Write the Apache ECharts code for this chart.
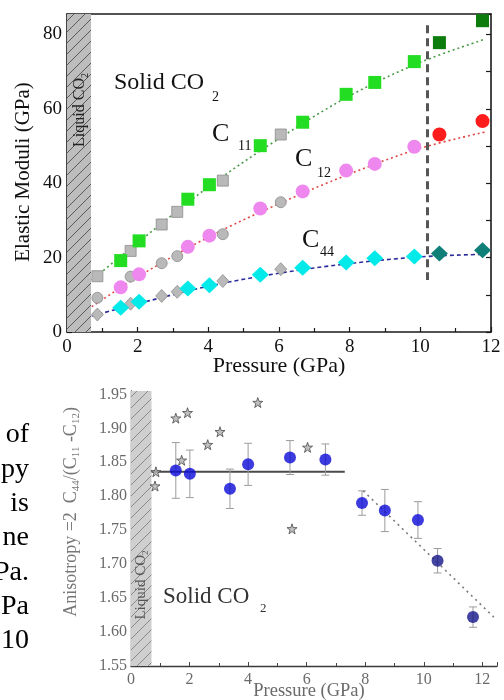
<!DOCTYPE html>
<html>
<head>
<meta charset="utf-8">
<script src="https://cdn.jsdelivr.net/npm/echarts@6/dist/echarts.min.js"></script>
<style>
  html, body { margin: 0; padding: 0; background: #fff; }
  #chart { width: 504px; height: 700px; }
</style>
</head>
<body>
<div id="chart"></div>
<script>
// ---------- Elastic moduli of solid CO2 (GPa) versus pressure (GPa) ----------
const pressure = [1.52, 2.04, 3.42, 4.03, 5.47, 6.67, 7.90, 8.71, 9.83];
const c11 = [19.2, 24.5, 35.7, 39.6, 50.1, 56.4, 63.9, 67.1, 72.7];
const c12 = [12.0, 15.5, 22.9, 25.9, 33.2, 37.8, 43.4, 45.2, 49.8];
const c44 = [6.5, 8.1, 11.7, 12.6, 15.4, 17.3, 18.7, 19.8, 20.3];

// high-pressure phase
const pressureHigh = [10.54, 11.76];
const c11High = [77.8, 83.7];
const c12High = [53.1, 56.7];
const c44High = [21.1, 22.0];

// earlier measurements (gray symbols)
const pressureRef = [0.86, 1.80, 2.68, 3.12, 4.41, 6.05];
const c11Ref = [15.0, 21.8, 28.9, 32.3, 40.7, 53.1];
const c12Ref = [9.2, 14.9, 18.5, 20.4, 26.3, 34.9];
const c44Ref = [4.7, 7.6, 9.7, 10.8, 13.7, 16.9];

// fitted curves
const fitPressure = [0.7, 2, 4, 6, 8, 10, 11.85];
const c11Fit = [14.0, 24.0, 39.0, 52.0, 63.5, 72.5, 78.8];
const c12Fit = [6.8, 14.8, 25.5, 34.5, 42.5, 49.4, 53.8];
const c44Fit = [4.3, 7.6, 12.3, 15.8, 18.4, 20.2, 20.9];

const moduliTicks = [0, 20, 40, 60, 80];
const pressureTicks = [0, 2, 4, 6, 8, 10, 12];
const liquidEdge = 0.68;
const transitionP = 10.2;

// ---------- Anisotropy 2 C44 / (C11 - C12) ----------
const anisoPressure = [1.53, 2.01, 3.38, 4.00, 5.43, 6.64, 7.89, 8.67, 9.80, 10.47, 11.68];
const anisoValue = [1.838, 1.833, 1.811, 1.847, 1.857, 1.854, 1.790, 1.779, 1.765, 1.705, 1.622];
const anisoError = [0.041, 0.035, 0.029, 0.031, 0.025, 0.023, 0.018, 0.031, 0.027, 0.018, 0.015];
const anisoHighFrom = 9; // index where the high-pressure phase starts

const starPressure = [0.82, 0.85, 1.53, 1.73, 1.93, 2.62, 3.04, 4.33, 5.50, 6.03];
const starValue = [1.815, 1.836, 1.915, 1.853, 1.923, 1.876, 1.895, 1.938, 1.752, 1.872];

const meanPressure = [0.7, 7.3];
const meanValue = [1.836, 1.836];
const trendPressure = [7.93, 12.39];
const trendValue = [1.808, 1.622];

const anisoTicks = ['1.55', '1.60', '1.65', '1.70', '1.75', '1.80', '1.85', '1.90', '1.95'];
const anisoPressureTicks = [0, 2, 4, 6, 8, 10, 12];

const sideText = ['of', 'py', 'is', 'ne', 'Pa.', 'Pa', '10'];

// ---------------------------------------------------------------
const serif = '"Liberation Serif", "Times New Roman", serif';
const pairs = (xs, ys) => xs.map((x, i) => [x, ys[i]]);

function hatch(bg, fg, n) {
  const c = document.createElement('canvas');
  c.width = n; c.height = n;
  const g = c.getContext('2d');
  g.fillStyle = bg; g.fillRect(0, 0, n, n);
  g.strokeStyle = fg; g.lineWidth = 1;
  g.beginPath();
  g.moveTo(0, n); g.lineTo(n, 0);
  g.moveTo(-1, 1); g.lineTo(1, -1);
  g.moveTo(n - 1, n + 1); g.lineTo(n + 1, n - 1);
  g.stroke();
  return { image: c, repeat: 'repeat' };
}

// text with subscripts, built from measured pieces: [text, fontSize, downShift]
const measureCtx = document.createElement('canvas').getContext('2d');
function textWidth(str, size) {
  measureCtx.font = size + 'px ' + serif;
  return measureCtx.measureText(str).width;
}
function composedLabel(cx, cy, pieces, color, rotation) {
  const total = pieces.reduce((s, p) => s + textWidth(p[0], p[1]), 0);
  let x = -total / 2;
  const children = pieces.map(p => {
    const el = {
      type: 'text', x, y: p[2] || 0, z: 100,
      style: { text: p[0], font: p[1] + 'px ' + serif, fill: color, verticalAlign: 'middle' }
    };
    x += textWidth(p[0], p[1]);
    return el;
  });
  return { type: 'group', x: cx, y: cy, rotation: rotation || 0, z: 100, children };
}

const STAR = 'path://M12,0 L14.9,8.6 L24,8.8 L16.7,14.3 L19.4,23 L12,17.8 L4.6,23 L7.3,14.3 L0,8.8 L9.1,8.6 Z';

function pts(name, xs, ys, symbol, size, color, border, z) {
  return {
    type: 'scatter', name, xAxisIndex: 0, yAxisIndex: 0, silent: true, z: z || 3,
    symbol, symbolSize: size,
    itemStyle: { color, borderColor: border || color, borderWidth: border ? 0.8 : 0, opacity: 1 },
    data: pairs(xs, ys)
  };
}

function fit(xs, ys, color, dash) {
  return {
    type: 'line', xAxisIndex: 0, yAxisIndex: 0, silent: true, z: 2,
    data: pairs(xs, ys), smooth: 0.35, symbol: 'none', showSymbol: false,
    lineStyle: { color, type: dash, width: 1.6 }
  };
}

const axisDark = { color: '#1a1a1a', width: 1.6 };
const axisGray = { color: '#3a3a3a', width: 1.4 };

const option = {
  animation: false,
  backgroundColor: '#ffffff',
  grid: [
    { left: 67, top: 14, width: 424, height: 318, show: false, outerBoundsMode: 'none' },
    { left: 131, top: 391, width: 366, height: 275, show: false, outerBoundsMode: 'none' }
  ],
  xAxis: [
    {
      gridIndex: 0, type: 'value', position: 'bottom',
      min: pressureTicks[0], max: pressureTicks[pressureTicks.length - 1],
      interval: pressureTicks[1] - pressureTicks[0],
      axisLine: { show: true, onZero: false, lineStyle: axisDark },
      axisTick: { show: true, inside: true, length: 5, lineStyle: { color: '#1a1a1a', width: 1.2 } },
      minorTick: { show: true, splitNumber: 2, length: 4, lineStyle: { color: '#1a1a1a', width: 1.2 } },
      axisLabel: { margin: 6, fontFamily: serif, fontSize: 19, color: '#111' },
      splitLine: { show: false }, minorSplitLine: { show: false }
    },
    {
      gridIndex: 0, type: 'value', position: 'top',
      min: pressureTicks[0], max: pressureTicks[pressureTicks.length - 1],
      axisLine: { show: true, onZero: false, lineStyle: axisDark },
      axisTick: { show: false }, axisLabel: { show: false }, splitLine: { show: false }
    },
    {
      gridIndex: 1, type: 'value', position: 'bottom',
      min: anisoPressureTicks[0], max: 12.5,
      interval: anisoPressureTicks[1] - anisoPressureTicks[0],
      axisLine: { show: true, onZero: false, lineStyle: axisGray },
      axisTick: { show: true, inside: true, length: 4, lineStyle: { color: '#444', width: 1 } },
      minorTick: { show: true, splitNumber: 2, length: 3, lineStyle: { color: '#444', width: 1 } },
      axisLabel: { margin: 6, fontFamily: serif, fontSize: 16, color: '#6a6a6a', showMaxLabel: false },
      splitLine: { show: false }, minorSplitLine: { show: false }
    }
  ],
  yAxis: [
    {
      gridIndex: 0, type: 'value', position: 'left',
      min: moduliTicks[0], max: 85.5, interval: moduliTicks[1] - moduliTicks[0],
      axisLine: { show: true, onZero: false, lineStyle: axisDark },
      axisTick: { show: true, inside: true, length: 5, lineStyle: { color: '#1a1a1a', width: 1.2 } },
      minorTick: { show: true, splitNumber: 2, length: 4, lineStyle: { color: '#1a1a1a', width: 1.2 } },
      axisLabel: { margin: 5, fontFamily: serif, fontSize: 19, color: '#111', showMaxLabel: false },
      splitLine: { show: false }, minorSplitLine: { show: false }
    },
    {
      gridIndex: 0, type: 'value', position: 'right',
      min: moduliTicks[0], max: 85.5, interval: 10,
      axisLine: { show: true, onZero: false, lineStyle: axisDark },
      axisTick: { show: true, inside: true, length: 5, lineStyle: { color: '#1a1a1a', width: 1.2 } },
      axisLabel: { show: false }, splitLine: { show: false }
    },
    {
      gridIndex: 1, type: 'value', position: 'left',
      min: Number(anisoTicks[0]), max: 1.955,
      interval: Number(anisoTicks[1]) - Number(anisoTicks[0]),
      axisLine: { show: true, onZero: false, lineStyle: axisGray },
      axisTick: { show: true, inside: true, length: 4, lineStyle: { color: '#444', width: 1 } },
      axisLabel: {
        margin: 4, fontFamily: serif, fontSize: 16, color: '#6a6a6a', showMaxLabel: false,
        formatter: v => v.toFixed(2)
      },
      splitLine: { show: false }
    }
  ],
  series: [
    // fitted curves, liquid region and phase boundary
    Object.assign(fit(fitPressure, c44Fit, '#2c2c9c', [4, 3]), {
      markArea: {
        silent: true,
        itemStyle: { color: hatch('#bdbdbd', '#5a5a5a', 11), borderWidth: 0 },
        data: [[{ xAxis: 0, yAxis: 0 }, { xAxis: liquidEdge, yAxis: 85.5 }]]
      },
      markLine: {
        silent: true, symbol: ['none', 'none'], label: { show: false },
        lineStyle: { type: [8, 5], color: '#555', width: 3 },
        data: [[{ coord: [transitionP, 82.5] }, { coord: [transitionP, 14] }]]
      }
    }),
    fit(fitPressure, c11Fit, '#4a9a4a', [2, 3]),
    fit(fitPressure, c12Fit, '#e04545', [2, 3]),

    pts('C11 ref', pressureRef, c11Ref, 'rect', 11, '#b9b9b9', '#8c8c8c', 3),
    pts('C12 ref', pressureRef, c12Ref, 'circle', 11, '#b9b9b9', '#8c8c8c', 3),
    pts('C44 ref', pressureRef, c44Ref, 'diamond', [12, 13], '#b9b9b9', '#8c8c8c', 3),

    pts('C11', pressure, c11, 'rect', 13, '#22dd22', null, 4),
    pts('C12', pressure, c12, 'circle', 14, '#ee88ee', null, 4),
    pts('C44', pressure, c44, 'diamond', [17, 16], '#00eaea', null, 4),

    pts('C11 high', pressureHigh, c11High, 'rect', 13, '#0c7d0c', null, 4),
    pts('C12 high', pressureHigh, c12High, 'circle', 14, '#ff1c1c', null, 4),
    pts('C44 high', pressureHigh, c44High, 'diamond', [17, 16], '#0f7f78', null, 4),

    // anisotropy: mean line + liquid region
    {
      type: 'line', xAxisIndex: 2, yAxisIndex: 2, silent: true, z: 2,
      data: pairs(meanPressure, meanValue), symbol: 'none',
      lineStyle: { color: '#4a4a4a', width: 2 },
      markArea: {
        silent: true,
        itemStyle: { color: hatch('#cfcfcf', '#8a8a8a', 11), borderWidth: 0 },
        data: [[{ xAxis: 0, yAxis: 1.55 }, { xAxis: 0.7, yAxis: 1.955 }]]
      }
    },
    {
      type: 'line', xAxisIndex: 2, yAxisIndex: 2, silent: true, z: 2,
      data: pairs(trendPressure, trendValue), symbol: 'none',
      lineStyle: { color: '#7a7a7a', width: 1.6, type: [2, 4] }
    },
    // error bars
    {
      type: 'custom', xAxisIndex: 2, yAxisIndex: 2, silent: true, z: 3,
      data: anisoPressure.map((p, i) => [p, anisoValue[i], anisoError[i]]),
      encode: { x: 0, y: 1 },
      renderItem(params, api) {
        const x = api.value(0), v = api.value(1), e = api.value(2);
        const top = api.coord([x, v + e]);
        const bot = api.coord([x, v - e]);
        const hw = 4;
        const st = { stroke: '#9c9c9c', lineWidth: 1 };
        return {
          type: 'group',
          children: [
            { type: 'line', shape: { x1: top[0], y1: top[1], x2: bot[0], y2: bot[1] }, style: st },
            { type: 'line', shape: { x1: top[0] - hw, y1: top[1], x2: top[0] + hw, y2: top[1] }, style: st },
            { type: 'line', shape: { x1: bot[0] - hw, y1: bot[1], x2: bot[0] + hw, y2: bot[1] }, style: st }
          ]
        };
      }
    },
    {
      type: 'scatter', xAxisIndex: 2, yAxisIndex: 2, silent: true, z: 4,
      symbol: 'circle', symbolSize: 12,
      itemStyle: { color: '#0a0ad8' },
      data: pairs(anisoPressure.slice(0, anisoHighFrom), anisoValue.slice(0, anisoHighFrom))
    },
    {
      type: 'scatter', xAxisIndex: 2, yAxisIndex: 2, silent: true, z: 4,
      symbol: 'circle', symbolSize: 12,
      itemStyle: { color: '#14148a' },
      data: pairs(anisoPressure.slice(anisoHighFrom), anisoValue.slice(anisoHighFrom))
    },
    {
      type: 'scatter', xAxisIndex: 2, yAxisIndex: 2, silent: true, z: 4,
      symbol: STAR, symbolSize: 10,
      itemStyle: { color: '#b0b0b0', borderColor: '#4a4a4a', borderWidth: 1 },
      data: pairs(starPressure, starValue)
    }
  ],
  graphic: {
    elements: [
      // axis titles
      { type: 'text', x: 23, y: 172, rotation: Math.PI / 2, z: 100,
        style: { text: 'Elastic Moduli (GPa)', font: `21px ${serif}`, fill: '#111', align: 'center', verticalAlign: 'middle' } },
      { type: 'text', x: 279, y: 366, z: 100,
        style: { text: 'Pressure (GPa)', font: `22px ${serif}`, fill: '#111', align: 'center', verticalAlign: 'middle' } },
      { type: 'text', x: 309, y: 691, z: 100,
        style: { text: 'Pressure (GPa)', font: `18.5px ${serif}`, fill: '#6a6a6a', align: 'center', verticalAlign: 'middle' } },
      composedLabel(71, 512, [
        ['Anisotropy =2  C', 18], ['44', 11, 5], ['/(C', 18], ['11', 11, 5],
        [' -C', 18], ['12', 11, 5], [')', 18]
      ], '#777', Math.PI / 2),

      // liquid region labels
      composedLabel(80, 110, [['Liquid CO', 16], ['2', 10, 5]], '#222', Math.PI / 2),
      composedLabel(141, 585, [['Liquid CO', 15], ['2', 9, 5]], '#555', Math.PI / 2),

      // phase and modulus labels
      { type: 'text', x: 114, y: 83, z: 100, style: { text: 'Solid CO', font: `24px ${serif}`, fill: '#111', verticalAlign: 'middle' } },
      { type: 'text', x: 212, y: 97, z: 100, style: { text: '2', font: `14px ${serif}`, fill: '#111', verticalAlign: 'middle' } },
      { type: 'text', x: 212, y: 134, z: 100, style: { text: 'C', font: `26px ${serif}`, fill: '#111', verticalAlign: 'middle' } },
      { type: 'text', x: 238, y: 146, z: 100, style: { text: '11', font: `14px ${serif}`, fill: '#111', verticalAlign: 'middle' } },
      { type: 'text', x: 295, y: 159, z: 100, style: { text: 'C', font: `26px ${serif}`, fill: '#111', verticalAlign: 'middle' } },
      { type: 'text', x: 317, y: 173, z: 100, style: { text: '12', font: `14px ${serif}`, fill: '#111', verticalAlign: 'middle' } },
      { type: 'text', x: 302, y: 240, z: 100, style: { text: 'C', font: `26px ${serif}`, fill: '#111', verticalAlign: 'middle' } },
      { type: 'text', x: 320, y: 252, z: 100, style: { text: '44', font: `14px ${serif}`, fill: '#111', verticalAlign: 'middle' } },

      { type: 'text', x: 163, y: 597, z: 100, style: { text: 'Solid CO', font: `23px ${serif}`, fill: '#333', verticalAlign: 'middle' } },
      { type: 'text', x: 260, y: 609, z: 100, style: { text: '2', font: `13px ${serif}`, fill: '#333', verticalAlign: 'middle' } }
    ].concat(sideText.map((t, i) => ({
      type: 'text', x: 29, y: 435 + i * 34.3, z: 100,
      style: { text: t, font: `28px ${serif}`, fill: '#000', align: 'right', verticalAlign: 'middle' }
    })))
  }
};

const chart = echarts.init(document.getElementById('chart'), null, { renderer: 'canvas' });
chart.setOption(option);
</script>
</body>
</html>
